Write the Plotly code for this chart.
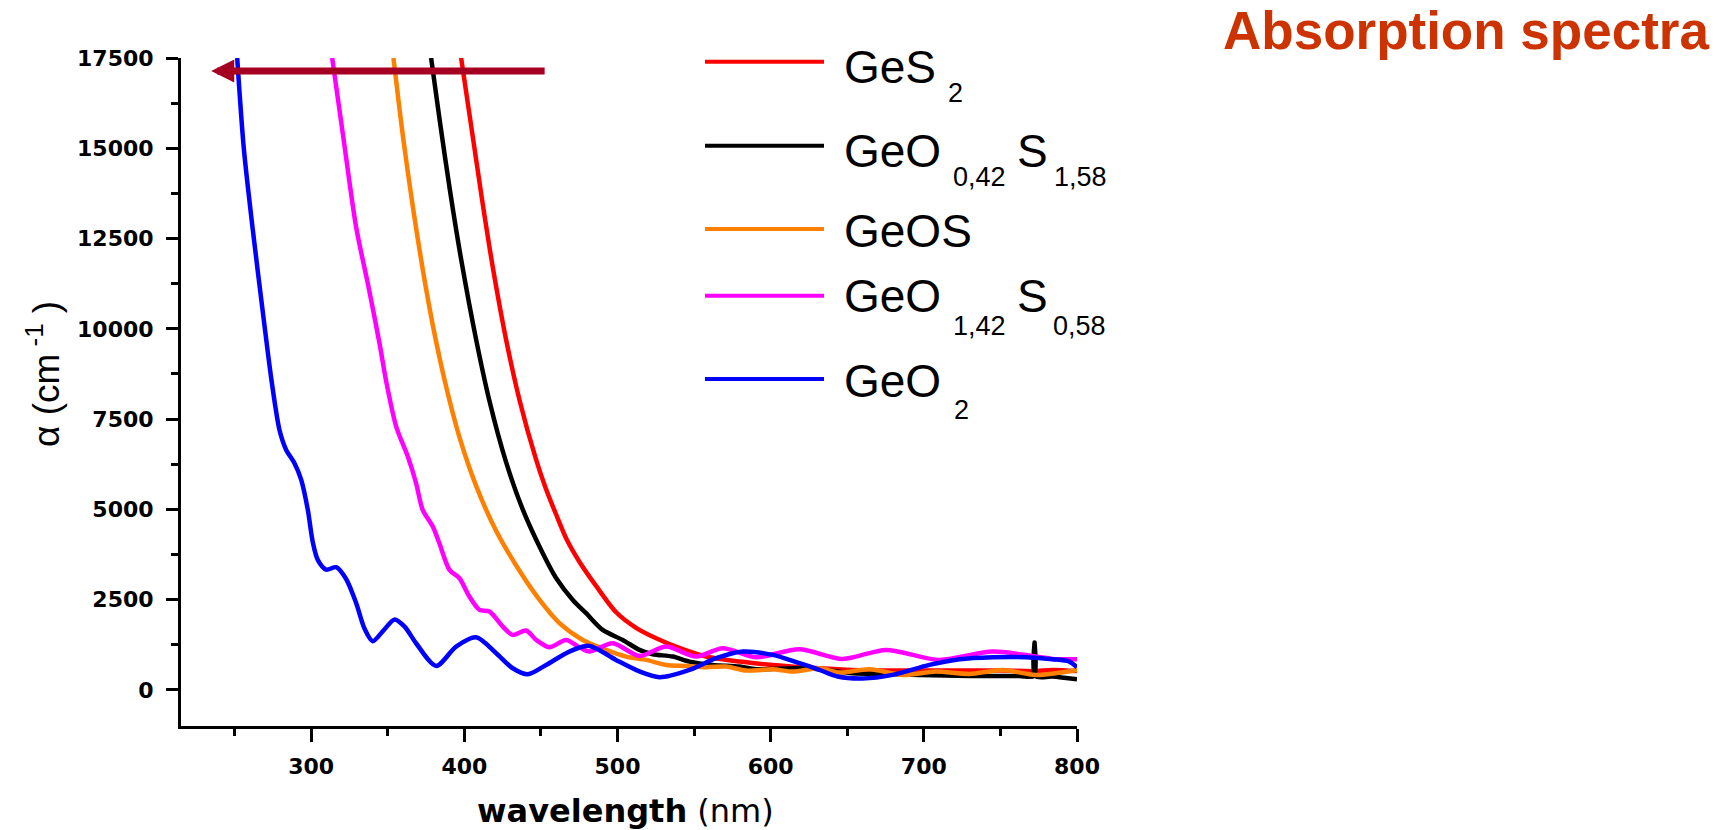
import plotly.graph_objects as go

# ---------------- data ----------------
wl_ges2 = [397.9, 411.6, 418.5, 427.3, 436, 446.9, 453, 460, 467, 475.1, 486, 499.1,
           512.1, 525.2, 542.6, 557.8, 579.6, 601.3, 631.8, 653.5, 686.2, 718.8, 751.4,
           772, 784, 800]
a_ges2 = [17500, 13568, 11722, 9692, 8030, 6369, 5600, 4850, 4150, 3550, 2880, 2150,
          1720, 1431, 1127, 923, 784, 692, 600, 554, 535, 535, 535, 520, 554, 520]

wl_geo042 = [378.3, 384, 390.9, 398, 407.7, 416.4, 427.3, 438.1, 451.2, 459.9, 470.8,
             479.5, 490.3, 503.4, 514.3, 523, 536, 547, 562.1, 579.6, 590.5, 614.4, 631.8,
             653.5, 675.3, 697, 729.7, 762.3, 771.9, 772.3, 772.7, 784, 800]
a_geo042 = [17500, 15750, 13750, 11900, 9700, 8000, 6300, 5000, 3785, 3100, 2492,
            2124, 1661, 1384, 1108, 989, 923, 784, 692, 646, 573, 600, 573,
            461, 443, 415, 388, 388, 385, 1310, 385, 369, 295]

wl_geos = [353.7, 360, 366.3, 372.8, 379.4, 388.1, 396.8, 407.7, 420.8, 436, 449,
           462.1, 477.3, 492.6, 505.6, 518.7, 531.7, 544.8, 557.8, 570.9, 584, 601.3, 614.4,
           631.8, 644.8, 664.4, 686.2, 707.9, 729.7, 751.4, 773.2, 800]
a_geos = [17500, 15300, 13400, 11650, 10100, 8400, 7000, 5650, 4400, 3300, 2500,
          1850, 1384, 1108, 923, 830, 692, 665, 628, 646, 535, 572, 507,
          600, 480, 572, 415, 507, 443, 554, 415, 554]

wl_geo142 = [313.7, 321, 329.4, 337, 344.6, 349, 355.5, 363.1, 368.5, 372.8, 379.4, 383.7,
             390.3, 396.8, 403.3, 409.9, 416.4, 425.1, 431.6, 440.3, 446.9, 455.5, 466.4,
             475.1, 481.7, 496.9, 514.3, 531.7, 551.3, 568.7, 590.5, 618.7, 647, 675.3,
             710.1, 744.9, 773.2, 784, 800]
a_geo142 = [17500, 15300, 12800, 11250, 9600, 8537, 7292, 6461, 5723, 4984, 4522, 4061,
            3323, 3092, 2584, 2215, 2169, 1754, 1523, 1643, 1384, 1182, 1384,
            1182, 1061, 1292, 941, 1200, 923, 1154, 905, 1127, 858, 1108,
            831, 1061, 923, 858, 850]

wl_geo2 = [251.7, 256, 261.9, 268.9, 274, 279.3, 283.7, 289.1, 293.5, 297.8, 301, 304.3,
           309.8, 316.3, 322.8, 329.4, 334.8, 340.2, 346.7, 354.5, 361, 368.5, 381.6,
           394.6, 407.7, 420.8, 431.6, 441.4, 453.4, 468.6, 481.7, 499, 514.3, 527.4,
           547, 564.4, 581.7, 601.3, 618.7, 631.8, 643.8, 660, 679.6, 703.6, 723.2,
           744.9, 766.7, 784, 795, 800]
a_geo2 = [17500, 15000, 12735, 10300, 8600, 7199, 6646, 6277, 5815, 4984, 4100, 3600,
          3330, 3397, 3070, 2400, 1700, 1350, 1620, 1950, 1750, 1292, 665,
          1200, 1458, 1015, 600, 434, 692, 1061, 1218, 831, 512, 351,
          554, 877, 1061, 969, 739, 554, 369, 314, 415, 692, 849,
          905, 905, 849, 784, 628]

series_names = ["GeS2", "GeO0,42S1,58", "GeOS", "GeO1,42S0,58", "GeO2"]
series_x = [wl_ges2, wl_geo042, wl_geos, wl_geo142, wl_geo2]
series_y = [a_ges2, a_geo042, a_geos, a_geo142, a_geo2]
series_colors = ["#FF0000", "#000000", "#FF8000", "#FF00FF", "#0000FF"]

x_ticks = [300, 400, 500, 600, 700, 800]
y_ticks = [0, 2500, 5000, 7500, 10000, 12500, 15000, 17500]

arrow_tip_x = 234.7
arrow_tail_x = 453.4
arrow_y = 17140

# ---------------- layout geometry (pixels) ----------------
W, H = 1725, 830
PL, PR, PT, PB = 181, 1077, 58, 726


def px2x(px):
    return (px - PL) / (PR - PL)


def py2y(py):
    return (PB - py) / (PB - PT)


fig = go.Figure()
for name, xs, ys, col in zip(series_names, series_x, series_y, series_colors):
    fig.add_trace(go.Scatter(
        x=xs, y=ys, mode="lines", name=name, showlegend=False,
        line=dict(color=col, width=4.5, shape="spline", smoothing=0.8),
    ))

tickfont = dict(family="DejaVu Sans", size=22, color="black", weight="bold")

fig.update_layout(
    width=W, height=H, autosize=False,
    margin=dict(l=PL, r=W - PR, t=PT, b=H - PB, pad=0),
    paper_bgcolor="white", plot_bgcolor="white",
    showlegend=False,
    xaxis=dict(
        range=[215, 800], tickvals=x_ticks, tickformat="d",
        showline=True, linecolor="black", linewidth=3, mirror=False,
        ticks="outside", ticklen=13, tickwidth=2.5, tickcolor="black",
        minor=dict(dtick=50, tick0=0, ticks="outside", ticklen=7, tickwidth=2.5, tickcolor="black"),
        showgrid=False, zeroline=False, tickfont=tickfont, ticklabelstandoff=6,
        automargin=False,
    ),
    yaxis=dict(
        range=[-1000, 17500], tickvals=y_ticks, tickformat="d",
        showline=True, linecolor="black", linewidth=3, mirror=False,
        ticks="outside", ticklen=12, tickwidth=2.5, tickcolor="black",
        minor=dict(dtick=1250, tick0=0, ticks="outside", ticklen=7, tickwidth=2.5, tickcolor="black"),
        showgrid=False, zeroline=False, tickfont=tickfont, ticklabelstandoff=8,
        automargin=False,
    ),
)

# x axis title
fig.add_annotation(
    text="<b>wavelength</b> (nm)", showarrow=False,
    xref="paper", yref="paper", x=px2x(625), y=py2y(811),
    xanchor="center", yanchor="middle",
    font=dict(family="DejaVu Sans", size=32, color="black"),
)

# y axis title (rotated text)
fig.add_annotation(
    text="α (cm<sup> -1</sup> )", textangle=-90, showarrow=False,
    xref="paper", yref="paper", x=px2x(44), y=py2y(374),
    xanchor="center", yanchor="middle",
    font=dict(family="Liberation Sans", size=37, color="black"),
)

# arrow
fig.add_annotation(
    x=arrow_tip_x, y=arrow_y, ax=arrow_tail_x, ay=arrow_y,
    xref="x", yref="y", axref="x", ayref="y", text="",
    showarrow=True, arrowhead=2, arrowsize=0.66, arrowwidth=7, arrowcolor="#A50021",
    standoff=0,
)

# title
fig.add_annotation(
    text="<b>Absorption spectra</b>", showarrow=False,
    xref="paper", yref="paper", x=px2x(1221), y=py2y(30),
    xanchor="left", yanchor="middle",
    font=dict(family="Liberation Sans", size=53, color="#CC3300"),
)

# legend (drawn manually: long line samples + chemical formulas with subscripts)
legend_line_y = [61.7, 145.7, 229, 295.7, 379]
for col, ly in zip(series_colors, legend_line_y):
    fig.add_shape(type="line", xref="paper", yref="paper",
                  x0=px2x(705), x1=px2x(824), y0=py2y(ly), y1=py2y(ly),
                  line=dict(color=col, width=4))

# (text, x, y, size, anchor)
legend_pieces = [
    ("GeS", 842, 66.7, 46, "left"), ("2", 945.7, 92.9, 27, "left"),
    ("GeO", 842, 150.7, 46, "left"), ("0,42", 951, 176.7, 27, "left"),
    ("S", 1032.5, 150.7, 46, "center"), ("1,58", 1052, 176.7, 27, "left"),
    ("GeOS", 842, 231, 46, "left"),
    ("GeO", 842, 296, 46, "left"), ("1,42", 951, 326, 27, "left"),
    ("S", 1032, 296, 46, "center"), ("0,58", 1051, 326, 27, "left"),
    ("GeO", 842, 381, 46, "left"), ("2", 951.5, 410.5, 27, "left"),
]
for txt, x, y, sz, anc in legend_pieces:
    fig.add_annotation(text=txt, showarrow=False, xref="paper", yref="paper",
                       x=px2x(x), y=py2y(y), xanchor=anc, yanchor="middle",
                       font=dict(family="Liberation Sans", size=sz, color="black"))

fig.write_html("out.html")
